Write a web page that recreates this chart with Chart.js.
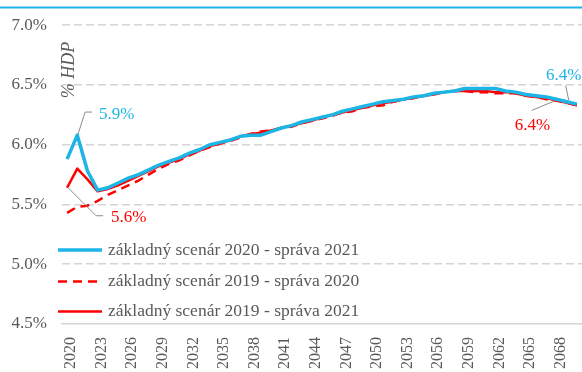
<!DOCTYPE html>
<html>
<head>
<meta charset="utf-8">
<script src="https://cdn.jsdelivr.net/npm/chart.js@4.4.1/dist/chart.umd.min.js"></script>
<style>
  html, body { margin: 0; padding: 0; background: #ffffff; }
  canvas { display: block; }
</style>
</head>
<body>
<canvas id="c" width="582" height="372"></canvas>
<script>
// Years on the category axis
const years = [
  '2020','2021','2022','2023','2024','2025','2026','2027','2028','2029',
  '2030','2031','2032','2033','2034','2035','2036','2037','2038','2039',
  '2040','2041','2042','2043','2044','2045','2046','2047','2048','2049',
  '2050','2051','2052','2053','2054','2055','2056','2057','2058','2059',
  '2060','2061','2062','2063','2064','2065','2066','2067','2068','2069',
  '2070'
];

// Years that get a tick label
const tickYears = ['2020','2023','2026','2029','2032','2035','2038','2041','2044',
                   '2047','2050','2053','2056','2059','2062','2065','2068'];

// Value axis ticks (% of GDP)
const yTicks = [4.5, 5.0, 5.5, 6.0, 6.5, 7.0];

// Series names
const seriesNames = [
  'základný scenár 2020 - správa 2021',
  'základný scenár 2019 - správa 2020',
  'základný scenár 2019 - správa 2021'
];

// Base scenario 2020, report 2021
const base2020r2021 = [
  5.88, 6.08, 5.78, 5.62, 5.64, 5.68, 5.72, 5.75, 5.79, 5.83,
  5.86, 5.89, 5.93, 5.96, 6.00, 6.02, 6.04, 6.07, 6.08, 6.08,
  6.11, 6.14, 6.16, 6.19, 6.21, 6.23, 6.25, 6.28, 6.30, 6.32,
  6.34, 6.36, 6.37, 6.38, 6.40, 6.41, 6.43, 6.44, 6.45, 6.47,
  6.47, 6.47, 6.47, 6.45, 6.44, 6.42, 6.41, 6.40, 6.38, 6.36,
  6.34
];

// Base scenario 2019, report 2020
const base2019r2020 = [
  5.43, 5.48, 5.49, 5.53, 5.58, 5.62, 5.66, 5.70, 5.75, 5.80,
  5.84, 5.87, 5.91, 5.95, 5.98, 6.01, 6.03, 6.06, 6.09, 6.11,
  6.12, 6.14, 6.15, 6.18, 6.20, 6.22, 6.24, 6.27, 6.28, 6.31,
  6.32, 6.33, 6.36, 6.38, 6.39, 6.41, 6.43, 6.44, 6.45, 6.45,
  6.44, 6.44, 6.43, 6.43, 6.43, 6.41, 6.40, 6.38, 6.37, 6.35,
  6.33
];

// Base scenario 2019, report 2021
const base2019r2021 = [
  5.64, 5.80, 5.71, 5.61, 5.63, 5.66, 5.70, 5.74, 5.78, 5.82,
  5.85, 5.88, 5.92, 5.95, 5.99, 6.01, 6.04, 6.07, 6.09, 6.10,
  6.12, 6.14, 6.16, 6.18, 6.20, 6.23, 6.25, 6.27, 6.29, 6.31,
  6.33, 6.35, 6.36, 6.38, 6.39, 6.41, 6.42, 6.44, 6.45, 6.45,
  6.45, 6.45, 6.44, 6.44, 6.43, 6.41, 6.40, 6.39, 6.37, 6.35,
  6.33
];

const CYAN = '#1db4e6';
const RED = '#ff0000';
const TEXT = '#595959';
const GRID = '#d4d4d4';
const SERIF = '"Liberation Serif", "DejaVu Serif", serif';

// Value callouts: dataset index, year, label offset and leader polyline (px, relative to the point)
const callouts = [
  { ds: 0, year: '2020', color: CYAN, text: [32, -45], align: 'left',
    leader: [[11, -25], [18, -47], [25, -47]] },
  { ds: 2, year: '2020', color: RED, text: [44, 30], align: 'left',
    leader: [[1, 0], [29, 28], [36, 28]] },
  { ds: 0, year: '2069', color: CYAN, text: [-3, -26], align: 'center',
    leader: [[2, -1.5], [-1, -16]] },
  { ds: 2, year: '2068', color: RED, text: [-24, 25], align: 'center',
    leader: [[-2, 0.5], [-25, 10]] }
];

const decorPlugin = {
  id: 'decor',
  beforeDraw(chart) {
    const c = chart.ctx;
    c.save();
    c.fillStyle = '#ffffff';
    c.fillRect(0, 0, chart.width, chart.height);
    // header rule
    c.strokeStyle = CYAN;
    c.lineWidth = 2;
    c.beginPath();
    c.moveTo(0, 7.5);
    c.lineTo(chart.width, 7.5);
    c.stroke();
    c.restore();
  },
  afterDatasetsDraw(chart) {
    const c = chart.ctx;
    const area = chart.chartArea;
    c.save();
    // unit label inside the plot
    c.fillStyle = TEXT;
    c.font = 'italic 18px ' + SERIF;
    c.textAlign = 'center';
    c.textBaseline = 'middle';
    c.translate(area.left + 7, 70);
    c.rotate(-Math.PI / 2);
    c.fillText('% HDP', 0, 0);
    c.restore();

    // callouts
    callouts.forEach(co => {
      const idx = years.indexOf(co.year);
      const meta = chart.getDatasetMeta(co.ds);
      const pt = meta.data[idx];
      const val = chart.data.datasets[co.ds].data[idx];
      c.save();
      c.strokeStyle = '#8c8c8c';
      c.lineWidth = 1;
      c.beginPath();
      co.leader.forEach((p, i) => {
        const x = pt.x + p[0], y = pt.y + p[1];
        if (i === 0) c.moveTo(x, y); else c.lineTo(x, y);
      });
      c.stroke();
      c.fillStyle = co.color;
      c.font = '17px ' + SERIF;
      c.textAlign = co.align;
      c.textBaseline = 'middle';
      c.fillText(val.toFixed(1) + '%', pt.x + co.text[0], pt.y + co.text[1]);
      c.restore();
    });

    // legend inside the plot
    const rows = [250, 281.5, 311.5];
    chart.data.datasets.forEach((ds, i) => {
      const y = rows[i];
      c.save();
      c.strokeStyle = ds.borderColor;
      c.lineWidth = ds.borderWidth;
      c.setLineDash(ds.borderDash || []);
      c.beginPath();
      c.moveTo(58, y);
      c.lineTo(102, y);
      c.stroke();
      c.setLineDash([]);
      c.fillStyle = TEXT;
      c.font = '17.5px ' + SERIF;
      c.textAlign = 'left';
      c.textBaseline = 'middle';
      c.fillText(ds.label, 108, y);
      c.restore();
    });
  }
};

new Chart(document.getElementById('c'), {
  type: 'line',
  data: {
    labels: years,
    datasets: [
      { label: seriesNames[0], data: base2020r2021, borderColor: CYAN, borderWidth: 3.5 },
      { label: seriesNames[1], data: base2019r2020, borderColor: RED, borderWidth: 2.5, borderDash: [9, 6] },
      { label: seriesNames[2], data: base2019r2021, borderColor: RED, borderWidth: 2.5 }
    ]
  },
  plugins: [decorPlugin],
  options: {
    responsive: false,
    animation: false,
    devicePixelRatio: 1,
    layout: { padding: { top: 18, right: 0, bottom: 0, left: 0 } },
    elements: {
      point: { radius: 0, hoverRadius: 0 },
      line: { tension: 0, fill: false, borderCapStyle: 'butt', borderJoinStyle: 'round' }
    },
    plugins: {
      legend: { display: false },
      tooltip: { enabled: false }
    },
    scales: {
      x: {
        type: 'category',
        offset: true,
        grid: { display: false, drawTicks: false },
        border: { display: true, color: GRID, width: 1.5 },
        ticks: {
          autoSkip: false,
          maxRotation: 90,
          minRotation: 90,
          padding: 13,
          labelOffset: 4,
          color: TEXT,
          font: { family: SERIF, size: 16 },
          callback: function (value) {
            const y = this.getLabelForValue(value);
            return tickYears.includes(y) ? y : '';
          }
        },
        afterFit(scale) {
          scale.height = 48;
          scale.paddingLeft = 0;
          scale.paddingRight = 0;
        }
      },
      y: {
        min: yTicks[0],
        max: yTicks[yTicks.length - 1],
        afterBuildTicks(scale) {
          scale.ticks = yTicks.map(v => ({ value: v }));
        },
        grid: {
          color: (ctx) => ctx.tick && ctx.tick.value === yTicks[0] ? 'rgba(0,0,0,0)' : GRID,
          lineWidth: 1.5,
          drawTicks: false
        },
        border: { display: false, dash: [8, 4] },
        ticks: {
          padding: 15,
          color: TEXT,
          font: { family: SERIF, size: 17 },
          callback: (v) => Number(v).toFixed(1) + '%'
        },
        afterFit(scale) {
          scale.width = 62;
        }
      }
    }
  }
});
</script>
</body>
</html>
